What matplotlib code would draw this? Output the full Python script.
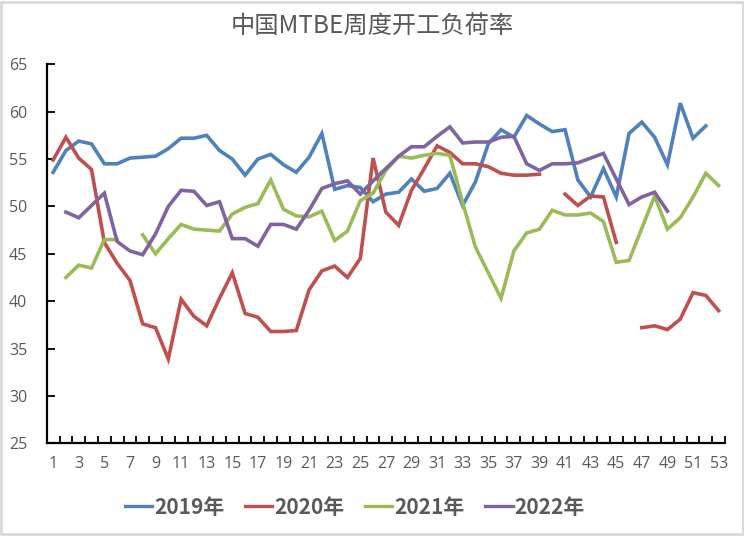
"""Weekly MTBE operating rate in China, 2019-2022."""

import matplotlib

matplotlib.use("Agg")
import matplotlib.pyplot as plt
from matplotlib.patches import Rectangle
from matplotlib.ticker import FixedLocator

plt.rcParams["font.family"] = ["Noto Sans CJK SC", "DejaVu Sans"]

weeks = list(range(1, 54))

rate_2019 = [53.6, 55.9, 56.9, 56.6, 54.5, 54.5, 55.1, 55.2, 55.3, 56.1,
             57.2, 57.2, 57.5, 55.9, 55.0, 53.3, 55.0, 55.5, 54.4, 53.6,
             55.2, 57.7, 51.8, 52.2, 52.0, 50.5, 51.3, 51.5, 52.9, 51.6,
             51.9, 53.5, 50.1, 52.6, 56.6, 58.1, 57.3, 59.6, 58.7, 57.9,
             58.1, 52.8, 51.0, 54.0, 51.0, 57.7, 58.9, 57.3, 54.4, 60.9,
             57.2, 58.5, None]
rate_2020 = [54.9, 57.3, 55.1, 53.9, 46.2, 44.0, 42.2, 37.6, 37.2, 33.9,
             40.2, 38.4, 37.4, 40.3, 43.0, 38.7, 38.3, 36.8, 36.8, 36.9,
             41.2, 43.2, 43.7, 42.5, 44.5, 55.1, 49.4, 48.0, 51.7, 54.0,
             56.4, 55.7, 54.5, 54.5, 54.2, 53.5, 53.3, 53.3, 53.4, None,
             51.3, 50.1, 51.1, 51.0, 46.2, None, 37.2, 37.4, 37.0, 38.1,
             40.9, 40.6, 39.0]
rate_2021 = [None, 42.5, 43.8, 43.5, 46.5, 46.5, None, 47.0, 45.0, 46.6,
             48.1, 47.6, 47.5, 47.4, 49.2, 49.9, 50.3, 52.8, 49.7, 49.0,
             48.9, 49.5, 46.4, 47.4, 50.6, 51.4, 53.8, 55.3, 55.1, 55.4,
             55.6, 55.4, 50.4, 45.7, 43.0, 40.3, 45.3, 47.2, 47.6, 49.6,
             49.1, 49.1, 49.3, 48.4, 44.1, 44.3, 47.7, 51.1, 47.6, 48.8,
             51.0, 53.5, 52.2]
rate_2022 = [None, 49.4, 48.8, 50.1, 51.4, 46.3, 45.3, 44.9, 47.1, 50.0,
             51.7, 51.6, 50.1, 50.5, 46.6, 46.6, 45.8, 48.1, 48.1, 47.6,
             49.6, 51.9, 52.4, 52.7, 51.3, 52.7, 54.0, 55.3, 56.3, 56.3,
             57.4, 58.4, 56.7, 56.8, 56.8, 57.3, 57.4, 54.5, 53.8, 54.5,
             54.5, 54.6, 55.1, 55.6, 52.9, 50.2, 51.0, 51.5, 49.5, None,
             None, None, None]

series = [
    ("2019年", rate_2019, "#4F81BD"),
    ("2020年", rate_2020, "#C0504D"),
    ("2021年", rate_2021, "#9BBB59"),
    ("2022年", rate_2022, "#8064A2"),
]

text_color = "#595959"


def _nan(values):
    return [float("nan") if v is None else v for v in values]


fig = plt.figure(figsize=(7.44, 5.36), dpi=100)
ax = fig.add_axes([0.0628, 0.173, 0.9117, 0.707])

for label, values, color in series:
    ax.plot(weeks, _nan(values), color=color, lw=2.6, label=label,
            solid_joinstyle="miter")

ax.set_xlim(0.5, 53.5)
ax.set_ylim(25, 65)
ax.set_yticks(range(25, 66, 5))
ax.set_xticks(weeks[::2])
ax.xaxis.set_minor_locator(FixedLocator([w + 0.5 for w in range(0, 54)]))

ax.tick_params(axis="x", which="major", length=0, pad=9,
               labelsize=11.5, labelcolor=text_color)
ax.tick_params(axis="x", which="minor", direction="in", length=5,
               width=1.3, color="black")
ax.tick_params(axis="y", direction="in", length=6, width=1.3,
               pad=14, labelsize=11.5, labelcolor=text_color)
for lab in ax.get_xticklabels() + ax.get_yticklabels():
    lab.set_family(["Open Sans", "DejaVu Sans"])

for side in ("top", "right"):
    ax.spines[side].set_visible(False)
for side in ("left", "bottom"):
    ax.spines[side].set_linewidth(1.6)
    ax.spines[side].set_color("black")

fig.text(0.5, 0.951, "中国MTBE周度开工负荷率", ha="center", va="center",
         fontsize=17.5, weight="light", color=text_color)

leg = fig.legend(loc="center", bbox_to_anchor=(0.477, 0.054), ncol=4,
                 frameon=False, handlelength=1.3, handletextpad=0.1,
                 columnspacing=1.0, prop={"size": 15, "weight": "bold"})
for t in leg.get_texts():
    t.set_color(text_color)
for line in leg.get_lines():
    line.set_linewidth(2.4)

fig.patches.append(Rectangle((0.002, 0.003), 0.996, 0.994,
                             transform=fig.transFigure, fill=False,
                             edgecolor="#d9d9d9", lw=2))

fig.savefig("out.png", dpi=100)
plt.close(fig)
